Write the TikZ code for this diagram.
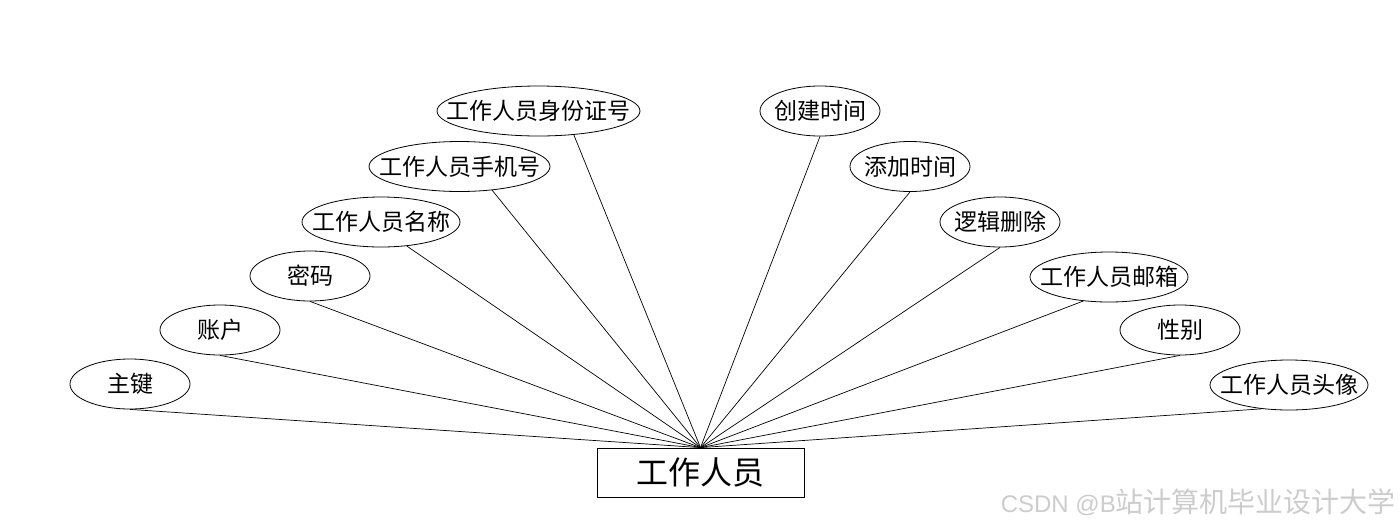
\documentclass[tikz,border=0pt]{standalone}
\usepackage{fontspec}
\newfontfamily\cjk{Noto Sans CJK SC}
\newfontfamily\wmlat{Liberation Sans}
\usetikzlibrary{shapes.geometric}
\begin{document}
\begin{tikzpicture}[x=1pt,y=-1pt,
  attr/.style={draw, ellipse, line width=0.8pt, inner sep=0pt, minimum width=120pt, minimum height=50pt},
  lbl/.style={inner sep=0pt, font=\cjk\fontsize{23}{23}\selectfont},
  ent/.style={draw, rectangle, line width=0.8pt, minimum width=207pt, minimum height=49pt, inner sep=0pt, font=\cjk\fontsize{32}{32}\selectfont},
  link/.style={line width=0.7pt},
  wm/.style={text=black!20, inner sep=0pt, anchor=east}]
\useasboundingbox (0,0) rectangle (1400,528);
\node[ent] (e) at (700.5,472.5) {工作人员};
% left side
\node[attr] (a1) at (130,384) {};
\node[attr] (a2) at (220,330) {};
\node[attr] (a3) at (310,276) {};
\node[attr, minimum width=158pt] (a4) at (381,222) {};
\node[attr, minimum width=181pt] (a5) at (459.5,166.5) {};
\node[attr, minimum width=203pt] (a6) at (538.5,111) {};
% right side
\node[attr] (b1) at (820,111) {};
\node[attr] (b2) at (910,166.5) {};
\node[attr] (b3) at (1000,222) {};
\node[attr, minimum width=158pt] (b4) at (1109,277) {};
\node[attr] (b5) at (1180,330) {};
\node[attr, minimum width=158pt] (b6) at (1289,385) {};
% labels
\node[lbl] (t1) at (a1) {主键};
\node[lbl] (t2) at (a2) {账户};
\node[lbl] (t3) at (a3) {密码};
\node[lbl] (t4) at (a4) {工作人员名称};
\node[lbl] (t5) at (a5) {工作人员手机号};
\node[lbl] (t6) at (a6) {工作人员身份证号};
\node[lbl] (u1) at (b1) {创建时间};
\node[lbl] (u2) at (b2) {添加时间};
\node[lbl] (u3) at (b3) {逻辑删除};
\node[lbl] (u4) at (b4) {工作人员邮箱};
\node[lbl] (u5) at (b5) {性别};
\node[lbl] (u6) at (b6) {工作人员头像};
% connectors
\draw[link] (a1.south) -- (e.north);
\draw[link] (a2.south) -- (e.north);
\draw[link] (a3.south) -- (e.north);
\draw[link] (a4.-43) -- (e.north);
\draw[link] (a5.-36.6) -- (e.north);
\draw[link] (a6.-34.8) -- (e.north);
\draw[link] (b1.south) -- (e.north);
\draw[link] (b2.south) -- (e.north);
\draw[link] (b3.south) -- (e.north);
\draw[link] (b4.-137.8) -- (e.north);
\draw[link] (b5.south) -- (e.north);
\draw[link] (b6.-139) -- (e.north);
% watermark
\node[wm] (w) at (1396,502) {{\wmlat\fontsize{24}{24}\selectfont CSDN @B}{\cjk\fontsize{28}{28}\selectfont 站计算机毕业设计大学}};
\end{tikzpicture}
\end{document}
